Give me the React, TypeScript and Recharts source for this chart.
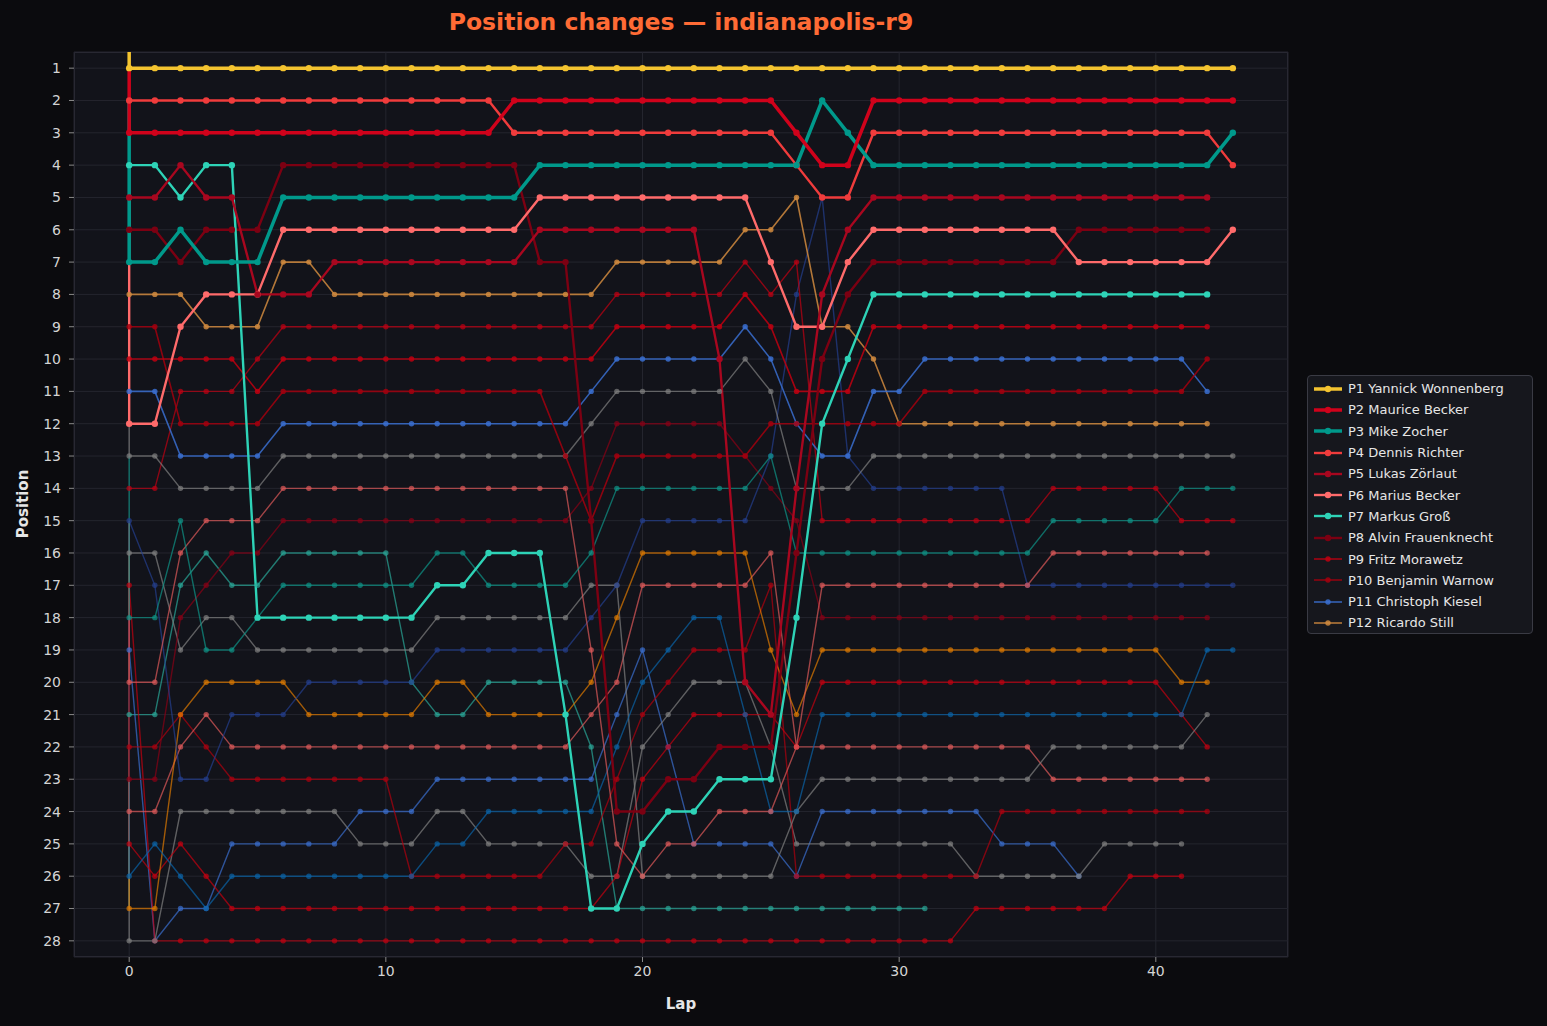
import React from 'react';
import { LineChart, Line, XAxis, YAxis, CartesianGrid } from 'recharts';

// lap-by-lap positions, index = lap (0 = start)
const wonnenberg = [1,1,1,1,1,1,1,1,1,1, 1,1,1,1,1,1,1,1,1,1, 1,1,1,1,1,1,1,1,1,1, 1,1,1,1,1,1,1,1,1,1, 1,1,1,1];
const mBecker = [3,3,3,3,3,3,3,3,3,3, 3,3,3,3,3,2,2,2,2,2, 2,2,2,2,2,2,3,4,4,2, 2,2,2,2,2,2,2,2,2,2, 2,2,2,2];
const zocher = [7,7,6,7,7,7,5,5,5,5, 5,5,5,5,5,5,4,4,4,4, 4,4,4,4,4,4,4,2,3,4, 4,4,4,4,4,4,4,4,4,4, 4,4,4,3];
const richter = [2,2,2,2,2,2,2,2,2,2, 2,2,2,2,2,3,3,3,3,3, 3,3,3,3,3,3,4,5,5,3, 3,3,3,3,3,3,3,3,3,3, 3,3,3,4];
const zoerlaut = [5,5,4,5,5,8,8,8,7,7, 7,7,7,7,7,7,6,6,6,6, 6,6,6,10,20,21,14,8,6,5, 5,5,5,5,5,5,5,5,5,5, 5,5,5];
const maBecker = [12,12,9,8,8,8,6,6,6,6, 6,6,6,6,6,6,5,5,5,5, 5,5,5,5,5,7,9,9,7,6, 6,6,6,6,6,6,6,7,7,7, 7,7,7,6];
const gross = [4,4,5,4,4,18,18,18,18,18, 18,18,17,17,16,16,16,21,27,27, 25,24,24,23,23,23,18,12,10,8, 8,8,8,8,8,8,8,8,8,8, 8,8,8];
const frauenknecht = [6,6,7,6,6,6,4,4,4,4, 4,4,4,4,4,4,7,7,15,24, 24,23,23,22,22,22,16,10,8,7, 7,7,7,7,7,7,7,6,6,6, 6,6,6];
const morawetz = [10,10,10,10,10,11,10,10,10,10, 10,10,10,10,10,10,10,10,10,9, 9,9,9,9,8,9,11,11,11,9, 9,9,9,9,9,9,9,9,9,9, 9,9,9];
const warnow = [9,9,12,12,12,12,11,11,11,11, 11,11,11,11,11,11,11,13,15,13, 13,13,13,13,13,12,12,12,12,12, 12,11,11,11,11,11,11,11,11,11, 11,11,10];
const kiesel = [11,11,13,13,13,13,12,12,12,12, 12,12,12,12,12,12,12,12,11,10, 10,10,10,10,9,10,12,13,13,11, 11,10,10,10,10,10,10,10,10,10, 10,10,11];
const still = [8,8,8,9,9,9,7,7,8,8, 8,8,8,8,8,8,8,8,8,7, 7,7,7,7,6,6,5,9,9,10, 12,12,12,12,12,12,12,12,12,12, 12,12,12];
const p13 = [13,13,14,14,14,14,13,13,13,13, 13,13,13,13,13,13,13,13,12,11, 11,11,11,11,10,11,14,14,14,13, 13,13,13,13,13,13,13,13,13,13, 13,13,13,13];
const p14 = [18,18,15,19,19,18,17,17,17,17, 17,17,16,16,17,17,17,17,16,14, 14,14,14,14,14,13,16,16,16,16, 16,16,16,16,16,16,15,15,15,15, 15,14,14,14];
const p15 = [14,14,11,11,11,10,9,9,9,9, 9,9,9,9,9,9,9,9,9,8, 8,8,8,8,7,8,7,15,15,15, 15,15,15,15,15,15,14,14,14,14, 14,15,15,15];
const p16 = [20,20,16,15,15,15,14,14,14,14, 14,14,14,14,14,14,14,14,19,25, 26,25,25,24,24,24,22,17,17,17, 17,17,17,17,17,17,16,16,16,16, 16,16,16];
const p17 = [15,17,23,23,21,21,21,20,20,20, 20,20,19,19,19,19,19,19,18,17, 15,15,15,15,15,13,8,5,13,14, 14,14,14,14,14,17,17,17,17,17, 17,17,17,17];
const p18 = [23,23,18,17,16,16,15,15,15,15, 15,15,15,15,15,15,15,15,14,12, 12,12,12,12,13,14,15,18,18,18, 18,18,18,18,18,18,18,18,18,18, 18,18,18];
const p19 = [26,25,26,27,26,26,26,26,26,26, 26,26,25,25,24,24,24,24,24,22, 20,19,18,18,21,24,24,21,21,21, 21,21,21,21,21,21,21,21,21,21, 21,21,19,19];
const p20 = [27,27,21,20,20,20,20,21,21,21, 21,21,20,20,21,21,21,21,20,18, 16,16,16,16,16,19,21,19,19,19, 19,19,19,19,19,19,19,19,19,19, 19,20,20];
const p21 = [16,16,19,18,18,19,19,19,19,19, 19,19,18,18,18,18,18,18,17,17, 26,26,26,26,26,26,24,23,23,23, 23,23,23,23,23,23,22,22,22,22, 22,22,21];
const p22 = [25,26,25,26,27,27,27,27,27,27, 27,27,27,27,27,27,27,27,27,26, 23,22,21,21,21,21,22,20,20,20, 20,20,20,20,20,20,20,20,20,20, 20,21,22];
const p23 = [24,24,22,21,22,22,22,22,22,22, 22,22,22,22,22,22,22,22,21,20, 17,17,17,17,17,16,22,22,22,22, 22,22,22,22,22,22,23,23,23,23, 23,23,23];
const p24 = [22,22,21,22,23,23,23,23,23,23, 23,26,26,26,26,26,26,25,25,23, 21,20,19,19,19,17,26,26,26,26, 26,26,26,26,24,24,24,24,24,24, 24,24,24];
const p25 = [28,28,24,24,24,24,24,24,24,25, 25,25,24,24,25,25,25,25,26,26, 22,21,20,20,20,22,25,25,25,25, 25,25,25,26,26,26,26,26,25,25, 25,25];
const p26 = [17,28,28,28,28,28,28,28,28,28, 28,28,28,28,28,28,28,28,28,28, 28,28,28,28,28,28,28,28,28,28, 28,28,28,27,27,27,27,27,27,26, 26,26];
const p27 = [19,28,27,27,25,25,25,25,25,24, 24,24,23,23,23,23,23,23,23,21, 19,22,25,25,25,25,26,24,24,24, 24,24,24,24,25,25,25,26];
const p28 = [21,21,17,16,17,17,16,16,16,16, 16,20,21,21,20,20,20,20,22,27, 27,27,27,27,27,27,27,27,27,27, 27,27];

// grid slot drawn before lap 0
const gridStart = [0,1,2,3,4,5,6,7,8,9,10,11,12,13,14,15,16,17,18,19,20,21,22,23,24,25,26,27];

const names = [
  'P1 Yannick Wonnenberg', 'P2 Maurice Becker', 'P3 Mike Zocher', 'P4 Dennis Richter',
  'P5 Lukas Zörlaut', 'P6 Marius Becker', 'P7 Markus Groß', 'P8 Alvin Frauenknecht',
  'P9 Fritz Morawetz', 'P10 Benjamin Warnow', 'P11 Christoph Kiesel', 'P12 Ricardo Still',
  'P13', 'P14', 'P15', 'P16', 'P17', 'P18', 'P19', 'P20', 'P21', 'P22', 'P23', 'P24', 'P25', 'P26', 'P27', 'P28',
];
const series = [
  wonnenberg, mBecker, zocher, richter, zoerlaut, maBecker, gross, frauenknecht,
  morawetz, warnow, kiesel, still, p13, p14, p15, p16, p17, p18, p19, p20, p21, p22, p23, p24, p25, p26, p27, p28,
];
const yTicks = [1,2,3,4,5,6,7,8,9,10,11,12,13,14,15,16,17,18,19,20,21,22,23,24,25,26,27,28];
const xTicks = [0, 10, 20, 30, 40];

const colors = [
  '#f4c430', '#d0021b', '#00998b', '#f03c3c', '#a8071f', '#ff6b6b', '#2ed3b7', '#7c0012',
  '#c00010', '#a3000e', '#3a6fd0', '#d08a3e',
  '#808080', '#0e9488', '#c20012', '#e05a5a', '#233f8e', '#8a0016', '#0a64a8', '#e07b00',
  '#808080', '#c40010', '#e05a5a', '#b0000e', '#808080', '#c40010', '#3a6fd0', '#2aa898',
];
const widthOf = (i: number) => (i < 3 ? 3.5 : i < 8 ? 2.4 : i < 12 ? 1.6 : 1.4);
const opacityOf = (i: number) => (i < 8 ? 1 : i < 12 ? 0.85 : 0.7);
const radiusOf = (i: number) => (i < 8 ? 3.2 : 2.7);

const FONT = '"DejaVu Sans", "Liberation Sans", sans-serif';
const W = 1547;
const H = 1026;
const plot = { left: 74, top: 52, right: 1288, bottom: 957 };
const Y_AXIS_W = 40;
const X_AXIS_H = 30;

const pointsFor = (vals: number[], start: number) => [
  { lap: 0, pos: start },
  ...vals.map((v, i) => ({ lap: i, pos: v })),
];

// marker for every lap, none for the grid slot
const makeDot = (i: number) => (props: any) => {
  const { cx, cy, index } = props;
  if (index === 0 || cx == null || cy == null) return <g key={`d-${i}-${index}`} />;
  return (
    <circle key={`d-${i}-${index}`} cx={cx} cy={cy} r={radiusOf(i)} fill={colors[i]} fillOpacity={opacityOf(i)} />
  );
};

export default function App() {
  const order = series.map((_, i) => i).reverse();
  return (
    <div style={{ position: 'fixed', left: 0, top: 0, width: W, height: H, background: '#0b0b0e', fontFamily: FONT, overflow: 'hidden' }}>
      <div style={{
        position: 'absolute', left: plot.left, top: plot.top,
        width: plot.right - plot.left, height: plot.bottom - plot.top,
        background: '#12131a', border: '1px solid #2c2d36', boxSizing: 'border-box',
      }} />
      <div style={{ position: 'absolute', left: 0, width: 1362, top: 8, textAlign: 'center', color: '#ff6b35', fontWeight: 'bold', fontSize: 23.5 }}>
        Position changes — indianapolis-r9
      </div>
      <div style={{ position: 'absolute', left: 0, top: 0 }}>
        <LineChart
          width={W}
          height={H}
          margin={{ top: plot.top, right: W - plot.right, bottom: H - plot.bottom - X_AXIS_H, left: plot.left - Y_AXIS_W }}
        >
          <CartesianGrid stroke="#24252e" strokeWidth={1} />
          <XAxis
            type="number"
            dataKey="lap"
            domain={[-2.15, 45.15]}
            ticks={xTicks}
            allowDataOverflow
            height={X_AXIS_H}
            axisLine={false}
            tickSize={5}
            tickMargin={4}
            tickLine={{ stroke: '#8a8a8a' }}
            tick={{ fill: '#d4d4d4', fontSize: 14, fontFamily: FONT }}
          />
          <YAxis
            type="number"
            dataKey="pos"
            domain={[0.5, 28.5]}
            reversed
            ticks={yTicks}
            interval={0}
            allowDataOverflow
            width={Y_AXIS_W}
            axisLine={false}
            tickSize={5}
            tickMargin={8}
            tickLine={{ stroke: '#8a8a8a' }}
            tick={{ fill: '#d4d4d4', fontSize: 14, fontFamily: FONT }}
          />
          {order.map((i) => (
            <Line
              key={names[i]}
              data={pointsFor(series[i], gridStart[i])}
              dataKey="pos"
              name={names[i]}
              type="linear"
              stroke={colors[i]}
              strokeWidth={widthOf(i)}
              strokeOpacity={opacityOf(i)}
              dot={makeDot(i)}
              activeDot={false}
              isAnimationActive={false}
            />
          ))}
        </LineChart>
      </div>
      <div style={{ position: 'absolute', left: 8, top: 505, width: 30, height: 0 }}>
        <div style={{ position: 'absolute', left: -40, top: -10, width: 110, textAlign: 'center', transform: 'rotate(-90deg)', color: '#e6e6e6', fontWeight: 'bold', fontSize: 15 }}>
          Position
        </div>
      </div>
      <div style={{ position: 'absolute', left: plot.left, width: plot.right - plot.left, top: 995, textAlign: 'center', color: '#e6e6e6', fontWeight: 'bold', fontSize: 15 }}>
        Lap
      </div>
      <div style={{
        position: 'absolute', left: 1307, top: 375, width: 226, height: 259,
        background: '#16171d', border: '1px solid #3a3b44', borderRadius: 4, boxSizing: 'border-box',
        paddingTop: 2,
      }}>
        {names.slice(0, 12).map((n, i) => (
          <div key={n} style={{ display: 'flex', alignItems: 'center', height: 21.3 }}>
            <svg width={40} height={12} style={{ marginLeft: 5, flexShrink: 0 }}>
              <line x1={1} y1={6} x2={29} y2={6} stroke={colors[i]} strokeWidth={widthOf(i)} strokeOpacity={opacityOf(i)} />
              <circle cx={15} cy={6} r={radiusOf(i)} fill={colors[i]} fillOpacity={opacityOf(i)} />
            </svg>
            <span style={{ color: '#e6e6e6', fontSize: 13, marginLeft: -5, whiteSpace: 'nowrap' }}>{n}</span>
          </div>
        ))}
      </div>
    </div>
  );
}
